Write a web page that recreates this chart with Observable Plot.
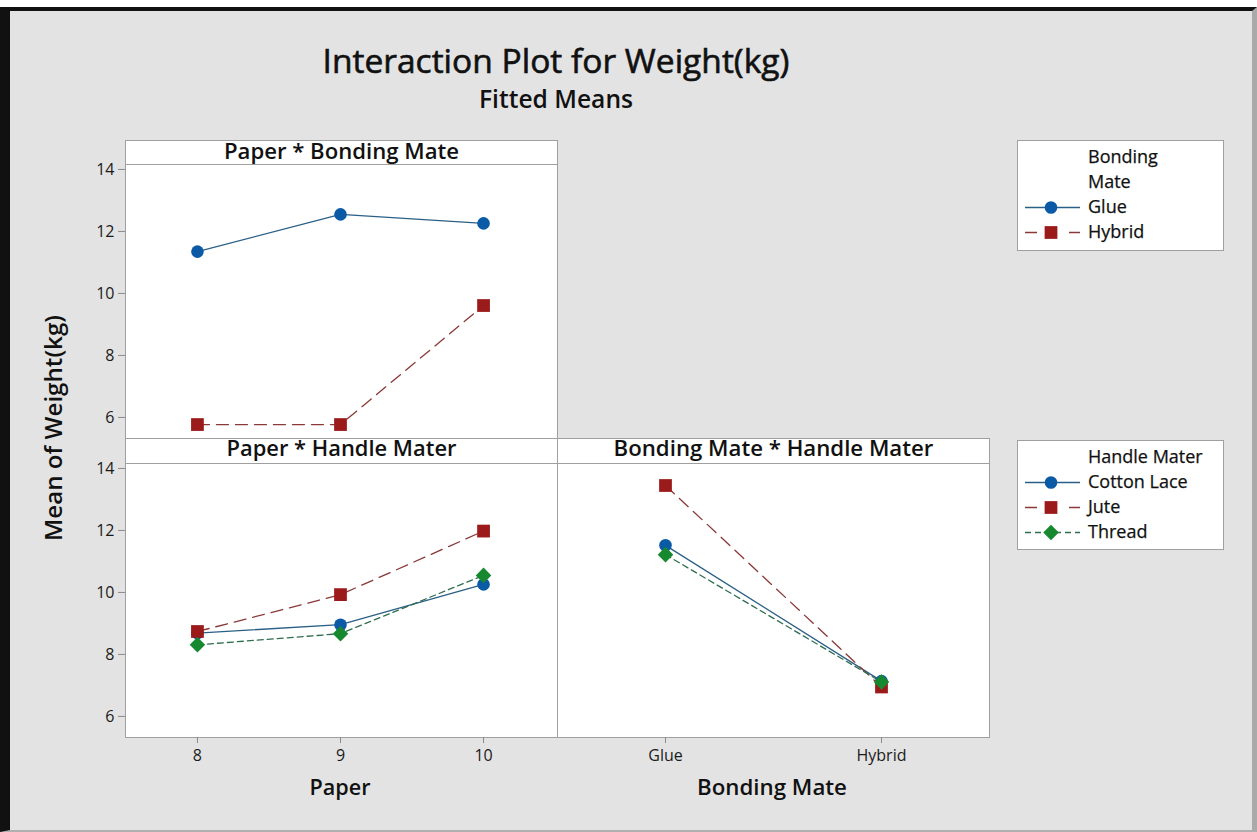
<!DOCTYPE html>
<html><head><meta charset="utf-8">
<script src="https://cdn.jsdelivr.net/npm/d3@7"></script>
<script src="https://cdn.jsdelivr.net/npm/@observablehq/plot@0.6"></script>
<style>
html,body{margin:0;padding:0;background:#fff;}
body{width:1257px;height:832px;position:relative;overflow:hidden;font-family:"Open Sans","Noto Sans",sans-serif;color:#111;}
#bg{position:absolute;left:0;top:7px;width:1242px;height:819px;background:#e3e3e3;border-top:4px solid #111;border-left:10px solid #111;border-right:5px solid #aaa;border-bottom:2px solid #b0b0b0;}
.abs{position:absolute;white-space:nowrap;line-height:1;}
.strip{position:absolute;background:#fff;border:1px solid #a0a0a0;box-sizing:border-box;}
.legend{position:absolute;background:#fff;border:1px solid #a0a0a0;box-sizing:border-box;font-size:18px;font-weight:500;-webkit-text-stroke:0.25px #111;}
.legend .row{position:absolute;left:0;height:25px;line-height:25px;white-space:nowrap;}
.legend .row span{position:absolute;left:70px;top:-1px;white-space:nowrap;}
.legend svg{position:absolute;left:6px;top:0;}
</style></head>
<body>
<div id="bg"></div>
<div id="root"></div>
<script>
// ---- data ----
const paperLevels = [8, 9, 10];
const bondingLevels = ["Glue", "Hybrid"];
const handleLevels = ["Cotton Lace", "Jute", "Thread"];
const yTicks = [6, 8, 10, 12, 14];
// Paper * Bonding Mate
const pbGlue = [11.35, 12.55, 12.26];
const pbHybrid = [5.77, 5.77, 9.61];
// Paper * Handle Mater
const phCotton = [8.69, 8.96, 10.26];
const phJute = [8.74, 9.93, 11.98];
const phThread = [8.31, 8.67, 10.55];
// Bonding Mate * Handle Mater
const bhCotton = [11.52, 7.14];
const bhJute = [13.45, 6.95];
const bhThread = [11.22, 7.11];

// ---- styles per series ----
const styles = [
  {marker: "#0b5aa6", line: "#2a5f86", symbol: "circle", r: 6.3, dash: null},
  {marker: "#9b1b1b", line: "#8a3838", symbol: "square", r: 7.2, dash: "12,7"},
  {marker: "#16892f", line: "#2f6e50", symbol: "diamond2", r: 7.0, dash: "6,4"}
];

const root = document.getElementById("root");
const FONT = '"Open Sans","Noto Sans",sans-serif';
const yDomain = [5.32, 14.16];

function toRows(xs, ys) { return xs.map((x, i) => ({x, y: ys[i]})); }

function panel({left, top, xScale, series, showY, showX, xTicks}) {
  const mL = 70, mR = 10, mT = 10, mB = 40, fw = 432, fh = 274;
  const marks = [Plot.frame({fill: "white", stroke: "#a0a0a0"})];
  series.forEach((s, i) => {
    const st = styles[i];
    marks.push(Plot.line(s, {x: "x", y: "y", stroke: st.line, strokeWidth: 1.3, strokeDasharray: st.dash}));
  });
  series.forEach((s, i) => {
    const st = styles[i];
    marks.push(Plot.dot(s, {x: "x", y: "y", symbol: st.symbol, r: st.r, fill: st.marker, stroke: "none"}));
  });
  if (showY) marks.push(Plot.axisY({ticks: yTicks, tickSize: 7, tickPadding: 4, label: null, stroke: "#8a8a8a", fill: "#1a1a1a", fontSize: 16, tickFormat: d => String(d)}));
  if (showX) marks.push(Plot.axisX({ticks: xTicks, tickSize: 6, tickPadding: 6, label: null, stroke: "#8a8a8a", fill: "#1a1a1a", fontSize: 16, tickFormat: d => String(d)}));
  const xOpt = Object.assign({}, xScale);
  if (!showX) xOpt.axis = null;
  const yOpt = {domain: yDomain};
  if (!showY) yOpt.axis = null;
  const p = Plot.plot({
    width: fw + mL + mR, height: fh + mT + mB,
    marginLeft: mL, marginRight: mR, marginTop: mT, marginBottom: mB,
    x: xOpt, y: yOpt,
    style: {background: "transparent", fontSize: "16px", fontFamily: FONT, overflow: "visible"},
    marks
  });
  p.style.position = "absolute";
  p.style.left = (left - mL) + "px";
  p.style.top = (top - mT) + "px";
  root.appendChild(p);
}

const numX = {type: "linear", domain: [7.497, 10.517]};
const catX = {type: "point", domain: bondingLevels, padding: 0.5};

panel({left: 125, top: 164, xScale: numX, showY: true, showX: false,
  series: [toRows(paperLevels, pbGlue), toRows(paperLevels, pbHybrid)]});
panel({left: 125, top: 463, xScale: numX, showY: true, showX: true, xTicks: paperLevels,
  series: [toRows(paperLevels, phCotton), toRows(paperLevels, phJute), toRows(paperLevels, phThread)]});
panel({left: 557, top: 463, xScale: catX, showY: false, showX: true, xTicks: bondingLevels,
  series: [toRows(bondingLevels, bhCotton), toRows(bondingLevels, bhJute), toRows(bondingLevels, bhThread)]});

// text fitted to a target width, centered at (cx, cy)
function fitText(txt, cx, cy, targetW, weight, rotate, stroke) {
  const d = document.createElement("div");
  d.className = "abs"; d.textContent = txt;
  d.style.fontSize = "20px"; d.style.fontWeight = weight; d.style.color = "#111";
  if (stroke) d.style.webkitTextStroke = stroke + "px #111";
  root.appendChild(d);
  const w = d.getBoundingClientRect().width;
  d.style.fontSize = (20 * targetW / w).toFixed(2) + "px";
  d.style.left = cx + "px"; d.style.top = cy + "px";
  d.style.transform = "translate(-50%,-50%)" + (rotate ? " rotate(-90deg)" : "");
  return d;
}
fitText("Interaction Plot for Weight(kg)", 556, 61, 467, 500, false, 0.6);
fitText("Fitted Means", 556, 99, 154, 600);
fitText("Mean of Weight(kg)", 53, 428, 226, 600, true);
fitText("Paper", 340, 787, 61, 600);
fitText("Bonding Mate", 772, 787, 150, 600);

function strip(txt, left, top, w, h, tw) {
  const d = document.createElement("div");
  d.className = "strip";
  Object.assign(d.style, {left: left + "px", top: top + "px", width: w + "px", height: h + "px"});
  root.appendChild(d);
  fitText(txt, left + w / 2, top + h / 2 - 3, tw, 600);
}
strip("Paper * Bonding Mate", 125, 140, 433, 25, 235);
strip("Paper * Handle Mater", 125, 438, 433, 26, 230);
strip("Bonding Mate * Handle Mater", 557, 438, 433, 26, 320);

function legend(titleLines, labels, left, top, w, h) {
  const box = document.createElement("div");
  box.className = "legend";
  Object.assign(box.style, {left: left + "px", top: top + "px", width: w + "px", height: h + "px"});
  let y = 4;
  titleLines.forEach(t => {
    const r = document.createElement("div"); r.className = "row"; r.style.top = y + "px";
    const s = document.createElement("span"); s.textContent = t; r.appendChild(s); box.appendChild(r); y += 25;
  });
  labels.forEach((t, i) => {
    const st = styles[i];
    const r = document.createElement("div"); r.className = "row"; r.style.top = y + "px"; r.style.width = w + "px";
    const svg = d3.create("svg").attr("width", 60).attr("height", 25);
    const ln = svg.append("line").attr("x1", 1).attr("x2", 56).attr("y1", 12.5).attr("y2", 12.5)
      .attr("stroke", st.line).attr("stroke-width", 1.3);
    if (st.dash) ln.attr("stroke-dasharray", i === 1 ? "12,32" : "6,4");
    const sym = st.symbol === "circle" ? d3.symbolCircle : st.symbol === "square" ? d3.symbolSquare : d3.symbolDiamond2;
    const size = Math.PI * st.r * st.r;
    svg.append("path").attr("transform", "translate(27,12.5)").attr("d", d3.symbol(sym, size)()).attr("fill", st.marker);
    r.appendChild(svg.node());
    const s = document.createElement("span"); s.textContent = t; r.appendChild(s);
    box.appendChild(r); y += 25;
  });
  root.appendChild(box);
}
legend(["Bonding", "Mate"], bondingLevels, 1017, 140, 207, 111);
legend(["Handle Mater"], handleLevels, 1017, 440, 207, 110);
</script>
</body></html>
